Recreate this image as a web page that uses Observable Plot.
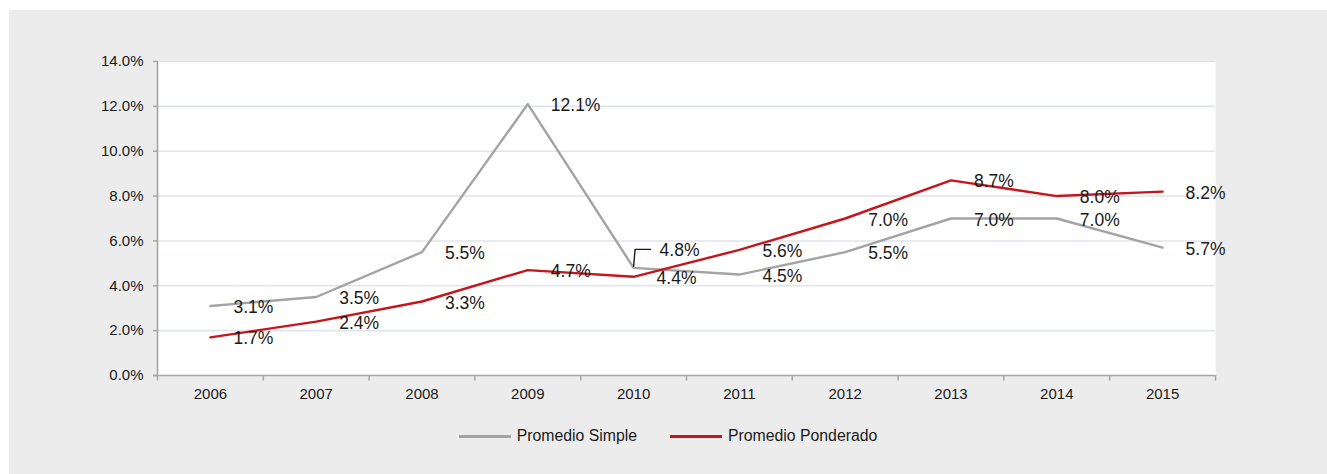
<!DOCTYPE html>
<html>
<head>
<meta charset="utf-8">
<script src="https://cdn.jsdelivr.net/npm/d3@7"></script>
<script src="https://cdn.jsdelivr.net/npm/@observablehq/plot@0.6"></script>
<style>
  html, body { margin: 0; padding: 0; background: #ffffff; }
  #wrap {
    position: absolute; left: 9px; top: 10px;
    width: 1318px; height: 464px;
    background: #ececec;
    font-family: "Liberation Sans", Arial, sans-serif;
  }
  #legend {
    display: flex; justify-content: center; align-items: center;
    margin-top: 16px; height: 20px;
    font-size: 15.8px; color: #1a1a1a;
  }
  .item { display: flex; align-items: center; }
  .swatch { width: 52px; height: 3px; margin-right: 6px; }
  .gap { width: 33px; }
</style>
</head>
<body>
<div id="wrap">
  <div id="chart"></div>
  <div id="legend"></div>
</div>
<script>
// ---- data ----
const years = [2006, 2007, 2008, 2009, 2010, 2011, 2012, 2013, 2014, 2015];
const promedioSimple = [3.1, 3.5, 5.5, 12.1, 4.8, 4.5, 5.5, 7.0, 7.0, 5.7];
const promedioPonderado = [1.7, 2.4, 3.3, 4.7, 4.4, 5.6, 7.0, 8.7, 8.0, 8.2];
const seriesNames = ["Promedio Simple", "Promedio Ponderado"];
const seriesColors = ["#a3a3a3", "#c4161c"];
const yTicks = [0, 2, 4, 6, 8, 10, 12, 14];

// ---- build rows ----
const rows = [];
years.forEach((yr, i) => {
  rows.push({ year: yr, value: promedioSimple[i], series: seriesNames[0] });
  rows.push({ year: yr, value: promedioPonderado[i], series: seriesNames[1] });
});
const fmt = v => v.toFixed(1) + "%";

// layout constants (pixels)
const W = 1318, H = 400;
const mL = 148, mR = 112, mT = 51, mB = 35;
const pxPerYear = (W - mL - mR) / years.length;
const pxPerPct = (H - mT - mB) / 14;

const xMin = years[0] - 0.5, xMax = years[years.length - 1] + 0.5;
const bounds = d3.range(years.length + 1).map(i => xMin + i);

// leader label for 2010 simple (shifted up)
const shiftedYear = 2010;
const isShifted = d => d.series === seriesNames[0] && d.year === shiftedYear;
const shiftPx = -17.7;
const shiftedRow = rows.find(isShifted);
const leader = [
  { x: shiftedRow.year, y: shiftedRow.value + 1.5 / pxPerPct },
  { x: shiftedRow.year + 1.5 / pxPerYear, y: shiftedRow.value - shiftPx / pxPerPct + 0.8 / pxPerPct },
  { x: shiftedRow.year + 17 / pxPerYear, y: shiftedRow.value - shiftPx / pxPerPct + 0.8 / pxPerPct }
];

const axisColor = "#a6a6a6";

const chart = Plot.plot({
  width: W, height: H,
  marginLeft: mL, marginRight: mR, marginTop: mT, marginBottom: mB,
  style: { background: "transparent", fontFamily: "'Liberation Sans', Arial, sans-serif", fontSize: "15px", color: "#1a1a1a", overflow: "visible" },
  x: { domain: [xMin, xMax], ticks: years, tickFormat: d => String(d), tickSize: 0, tickPadding: 13, label: null },
  y: { domain: [0, 14], ticks: yTicks, tickFormat: fmt, tickSize: 0, tickPadding: 14, label: null },
  color: { domain: seriesNames, range: seriesColors },
  marks: [
    Plot.frame({ fill: "white", stroke: null }),
    Plot.ruleY(yTicks.filter(d => d > 0), { stroke: "#dfe5ea", strokeWidth: 1.6 }),
    // y axis line & ticks
    Plot.ruleX([xMin], { y1: 0, y2: 14, stroke: axisColor, strokeWidth: 1.6 }),
    Plot.ruleY(yTicks, { x1: xMin - 4 / pxPerYear, x2: xMin, stroke: axisColor, strokeWidth: 1.5 }),
    // x axis line & ticks
    Plot.ruleY([0], { x1: xMin - 4 / pxPerYear, x2: xMax, stroke: axisColor, strokeWidth: 1.6 }),
    Plot.ruleX(bounds, { y1: 0, y2: -5.5 / pxPerPct, stroke: axisColor, strokeWidth: 1.5 }),
    // lines
    Plot.line(rows, { x: "year", y: "value", z: "series", stroke: "series", strokeWidth: 2.4, strokeLinejoin: "round" }),
    // leader line
    Plot.line(leader, { x: "x", y: "y", stroke: "#1a1a1a", strokeWidth: 1.4 }),
    // labels
    Plot.text(rows.filter(d => !isShifted(d)), {
      x: "year", y: "value", text: d => fmt(d.value),
      dx: 23, dy: 1.5, textAnchor: "start", fontSize: 17.5, fill: "#1a1a1a"
    }),
    Plot.text(rows.filter(isShifted), {
      x: "year", y: "value", text: d => fmt(d.value),
      dx: 26, dy: shiftPx, textAnchor: "start", fontSize: 17.5, fill: "#1a1a1a"
    })
  ]
});
document.getElementById("chart").appendChild(chart);

// legend
const legend = document.getElementById("legend");
seriesNames.forEach((name, i) => {
  if (i > 0) { const g = document.createElement("div"); g.className = "gap"; legend.appendChild(g); }
  const item = document.createElement("div"); item.className = "item";
  const sw = document.createElement("div"); sw.className = "swatch"; sw.style.background = seriesColors[i];
  const tx = document.createElement("span"); tx.textContent = name;
  item.appendChild(sw); item.appendChild(tx);
  legend.appendChild(item);
});
</script>
</body>
</html>
